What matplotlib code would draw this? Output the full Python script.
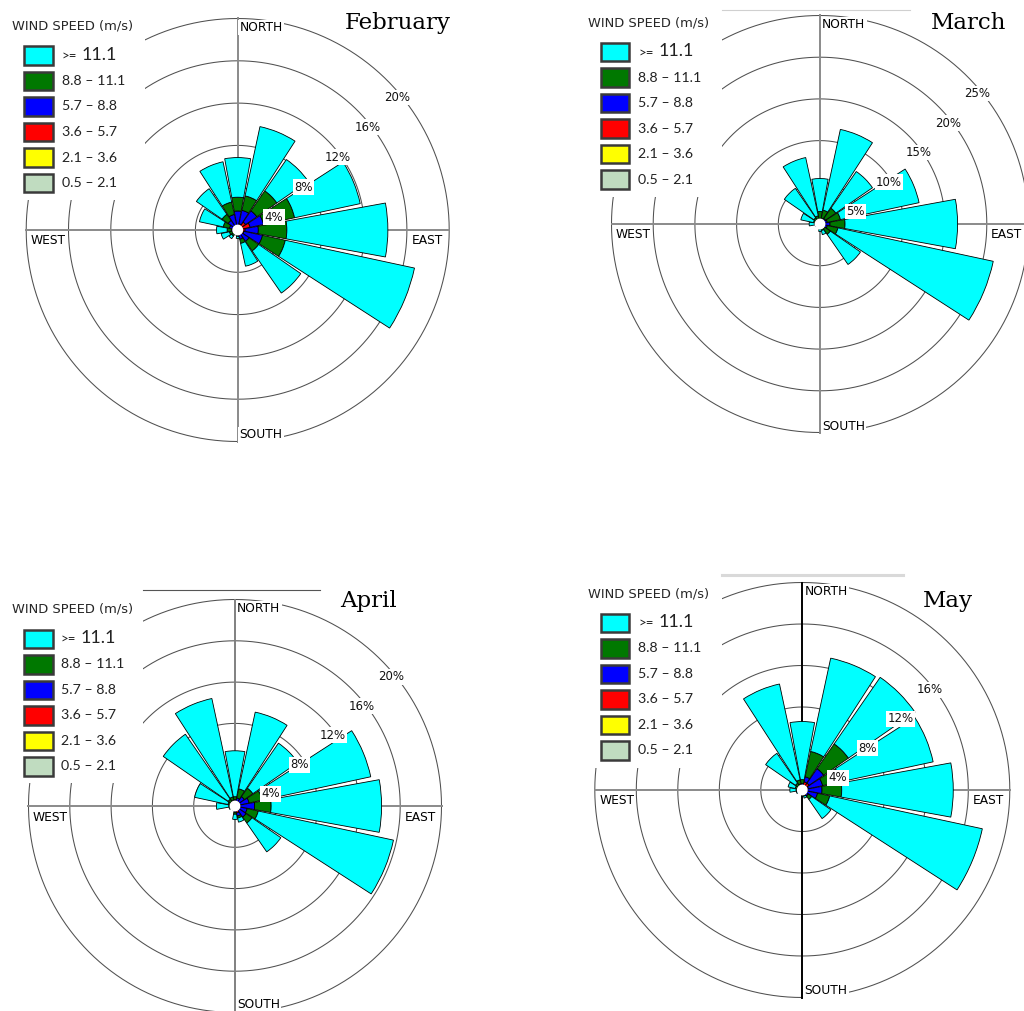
import numpy as np
import matplotlib.pyplot as plt
from matplotlib.patches import Rectangle

W, H = 1024, 1011
PT = 0.72  # points per pixel at dpi=100

directions = ['N', 'NNE', 'NE', 'ENE', 'E', 'ESE', 'SE', 'SSE',
              'S', 'SSW', 'SW', 'WSW', 'W', 'WNW', 'NW', 'NNW']
speed_labels = ['0.5 – 2.1', '2.1 – 3.6', '3.6 – 5.7', '5.7 – 8.8', '8.8 – 11.1', '>= 11.1']
speed_colors = ['#c0dcc0', '#ffff00', '#ff0000', '#0000ff', '#007800', '#00ffff']

# frequency (%) of each speed class per direction, N clockwise
feb_05_21 = [0.1, 0.1, 0.1, 0.1, 0.1, 0.1, 0.1, 0.1, 0.1, 0.1, 0.1, 0.1, 0.1, 0.1, 0.1, 0.1]
feb_21_36 = [0.1, 0.1, 0.1, 0.1, 0.1, 0.1, 0.1, 0.1, 0.1, 0.1, 0.1, 0.1, 0.1, 0.1, 0.1, 0.1]
feb_36_57 = [0.25, 0.4, 0.7, 1.0, 0.5, 0.4, 0.2, 0.2, 0.15, 0.1, 0.1, 0.1, 0.1, 0.15, 0.2, 0.25]
feb_57_88 = [1.35, 1.3, 1.3, 1.3, 1.25, 1.8, 0.9, 0.5, 0.15, 0.1, 0.2, 0.2, 0.3, 0.45, 0.7, 1.05]
feb_88_111 = [1.3, 1.4, 2.3, 3.0, 2.7, 2.2, 1.1, 0.4, 0.1, 0.05, 0.2, 0.3, 0.4, 0.6, 0.7, 1.2]
feb_111 = [3.75, 6.7, 3.6, 6.35, 9.55, 12.5, 4.85, 2.2, 0.2, 0.05, 0.3, 0.8, 1.0, 2.3, 2.95, 3.9]

mar_05_21 = [0.1, 0.1, 0.1, 0.1, 0.1, 0.1, 0.1, 0.1, 0.1, 0.1, 0.1, 0.1, 0.1, 0.1, 0.1, 0.1]
mar_21_36 = [0.1, 0.1, 0.1, 0.1, 0.1, 0.1, 0.1, 0.1, 0.1, 0.1, 0.1, 0.1, 0.1, 0.1, 0.1, 0.1]
mar_36_57 = [0.2, 0.2, 0.2, 0.2, 0.25, 0.2, 0.15, 0.1, 0.1, 0.05, 0.05, 0.05, 0.1, 0.1, 0.1, 0.15]
mar_57_88 = [0.2, 0.3, 0.4, 0.5, 0.75, 0.5, 0.35, 0.2, 0.1, 0.05, 0.05, 0.05, 0.1, 0.15, 0.2, 0.2]
mar_88_111 = [0.9, 1.0, 1.5, 1.6, 1.8, 1.3, 0.8, 0.3, 0.1, 0.05, 0.05, 0.1, 0.2, 0.35, 0.4, 0.45]
mar_111 = [3.95, 9.9, 5.35, 9.65, 13.5, 19.05, 4.4, 0.5, 0.4, 0.05, 0.05, 0.2, 0.7, 1.55, 4.3, 7.15]

apr_05_21 = [0.1, 0.1, 0.1, 0.1, 0.1, 0.1, 0.1, 0.1, 0.1, 0.1, 0.1, 0.1, 0.1, 0.1, 0.1, 0.1]
apr_21_36 = [0.1, 0.1, 0.1, 0.1, 0.1, 0.1, 0.1, 0.1, 0.1, 0.1, 0.1, 0.1, 0.1, 0.1, 0.1, 0.1]
apr_36_57 = [0.2, 0.2, 0.25, 0.3, 0.3, 0.25, 0.3, 0.5, 0.1, 0.05, 0.05, 0.05, 0.1, 0.1, 0.1, 0.15]
apr_57_88 = [0.2, 0.4, 0.65, 0.9, 1.4, 0.75, 0.8, 0.3, 0.3, 0.05, 0.05, 0.05, 0.1, 0.15, 0.2, 0.2]
apr_88_111 = [0.3, 0.9, 1.0, 1.3, 1.6, 1.1, 0.7, 0.2, 0.2, 0.05, 0.05, 0.1, 0.2, 0.25, 0.3, 0.35]
apr_111 = [4.45, 7.6, 5.3, 10.75, 10.7, 13.4, 3.4, 0.4, 0.5, 0.1, 0.05, 0.2, 1.2, 3.3, 7.65, 9.75]

may_05_21 = [0.1, 0.1, 0.1, 0.1, 0.1, 0.1, 0.1, 0.1, 0.1, 0.1, 0.1, 0.1, 0.1, 0.1, 0.1, 0.1]
may_21_36 = [0.1, 0.1, 0.1, 0.1, 0.1, 0.1, 0.1, 0.1, 0.1, 0.1, 0.1, 0.1, 0.1, 0.1, 0.1, 0.1]
may_36_57 = [0.2, 0.6, 0.6, 0.4, 0.3, 0.25, 0.2, 0.15, 0.1, 0.05, 0.05, 0.05, 0.1, 0.1, 0.1, 0.15]
may_57_88 = [0.2, 0.5, 1.7, 1.4, 1.4, 1.05, 0.3, 0.15, 0.1, 0.05, 0.05, 0.05, 0.1, 0.15, 0.2, 0.25]
may_88_111 = [0.4, 2.5, 2.9, 1.8, 1.9, 1.2, 0.4, 0.1, 0.05, 0.05, 0.05, 0.1, 0.2, 0.25, 0.3, 0.4]
may_111 = [5.6, 9.2, 7.8, 9.1, 10.75, 15.05, 2.25, 0.2, 0.05, 0.05, 0.05, 0.2, 0.6, 0.7, 3.5, 9.45]

feb_rings = [4, 8, 12, 16, 20]
mar_rings = [5, 10, 15, 20, 25]
apr_rings = [4, 8, 12, 16, 20]
may_rings = [4, 8, 12, 16, 20]

panels = [
    dict(title='February', cx=237.7, cy=230, step=42.3, rings=feb_rings, labels=feb_rings,
         data=[feb_05_21, feb_21_36, feb_36_57, feb_57_88, feb_88_111, feb_111],
         vcol='#8a8a8a', title_xy=(345, 28.5), south_dy=6.5,
         leg=dict(tx=11.7, ty=26, bx=24, by=55.5, lx=61.7, cover=(0, 0, 145, 200))),
    dict(title='March', cx=820, cy=224, step=41.7, rings=mar_rings, labels=mar_rings,
         data=[mar_05_21, mar_21_36, mar_36_57, mar_57_88, mar_88_111, mar_111],
         vcol='#8a8a8a', title_xy=(930.7, 29.3), south_dy=6.5,
         leg=dict(tx=588.3, ty=22.5, bx=600.7, by=52.2, lx=638.3, cover=(560, 0, 722, 197))),
    dict(title='April', cx=235, cy=806, step=41.3, rings=apr_rings, labels=apr_rings,
         data=[apr_05_21, apr_21_36, apr_36_57, apr_57_88, apr_88_111, apr_111],
         vcol='#808080', title_xy=(340, 606.7), south_dy=8.5,
         leg=dict(tx=11.7, ty=609.2, bx=24, by=638.8, lx=60.7, cover=(0, 580, 143, 783))),
    dict(title='May', cx=802.3, cy=790, step=41.5, rings=may_rings, labels=may_rings[:4],
         data=[may_05_21, may_21_36, may_36_57, may_57_88, may_88_111, may_111],
         vcol='#000000', title_xy=(923, 607.3), south_dy=6.5,
         leg=dict(tx=588.3, ty=593.7, bx=600.7, by=622.8, lx=638.3, cover=(580, 560, 722, 768))),
]

plt.rcParams['font.family'] = 'DejaVu Sans'
fig = plt.figure(figsize=(W / 100, H / 100), dpi=100)

theta = np.deg2rad(np.arange(len(directions)) * 22.5)
bar_width = np.deg2rad(22.5 * 0.92)
circ = np.linspace(0, 2 * np.pi, 361)
box_style = dict(boxstyle='square,pad=0.12', fc='white', ec='none')

for p in panels:
    rmax = p['rings'][-1]
    lim = rmax * 1.06
    half = p['step'] * len(p['rings']) * 1.06
    ax = fig.add_axes([(p['cx'] - half) / W, 1 - (p['cy'] + half) / H,
                       2 * half / W, 2 * half / H], projection='polar')
    ax.set_theta_zero_location('N')
    ax.set_theta_direction(-1)
    ax.set_ylim(0, lim)
    ax.grid(False)
    ax.set_xticks([])
    ax.set_yticks([])
    ax.spines['polar'].set_visible(False)
    ax.patch.set_visible(False)

    for r in p['rings']:
        ax.plot(circ, np.full_like(circ, r), color='#505050', lw=0.75, zorder=1)
    ax.plot([0, 0], [0, rmax], color=p['vcol'], lw=1.4, zorder=1)
    ax.plot([np.pi, np.pi], [0, rmax], color=p['vcol'], lw=1.4, zorder=1)
    ax.plot([np.pi / 2, np.pi / 2], [0, rmax], color='#8a8a8a', lw=1.4, zorder=1)
    ax.plot([3 * np.pi / 2, 3 * np.pi / 2], [0, rmax], color='#8a8a8a', lw=1.4, zorder=1)

    # stacked wind-speed classes
    bottom = np.zeros(len(directions))
    for vals, col in zip(p['data'], speed_colors):
        vals = np.asarray(vals, dtype=float)
        ax.bar(theta, vals, width=bar_width, bottom=bottom, color=col,
               edgecolor='black', lw=0.6, zorder=2)
        bottom += vals

    hole = 4.7 / p['step'] * p['rings'][0]
    ax.fill(circ, np.full_like(circ, hole), color='white', zorder=3)

    for r in p['labels']:
        ax.annotate(f'{r}%', xy=(np.pi / 4, r), xytext=(-3 * PT, -17 * PT),
                    textcoords='offset points', ha='left', va='center',
                    fontsize=8.5, color='#111111', bbox=box_style, zorder=4)

    ax.annotate('NORTH', xy=(0, rmax), xytext=(2 * PT, -9 * PT), textcoords='offset points',
                ha='left', va='center', fontsize=8.8, bbox=box_style, zorder=4)
    ax.annotate('SOUTH', xy=(np.pi, rmax), xytext=(2 * PT, p['south_dy'] * PT),
                textcoords='offset points', ha='left', va='center', fontsize=8.8,
                bbox=box_style, zorder=4)
    ax.annotate('WEST', xy=(3 * np.pi / 2, rmax), xytext=(4.5 * PT, -11 * PT),
                textcoords='offset points', ha='left', va='center', fontsize=8.8, zorder=4)
    ax.annotate('EAST', xy=(np.pi / 2, rmax), xytext=(-6 * PT, -11 * PT),
                textcoords='offset points', ha='right', va='center', fontsize=8.8, zorder=4)

# overlay in pixel coordinates for legends and titles
ov = fig.add_axes([0, 0, 1, 1], zorder=5)
ov.set_xlim(0, W)
ov.set_ylim(H, 0)
ov.axis('off')
ov.patch.set_visible(False)

for p in panels:
    lg = p['leg']
    x0, y0, x1, y1 = lg['cover']
    ov.add_patch(Rectangle((x0, y0), x1 - x0, y1 - y0, fc='white', ec='none', zorder=1))
    ov.text(lg['tx'], lg['ty'], 'WIND SPEED (m/s)', fontsize=9.4, color='#262626',
            ha='left', va='center', zorder=3)
    for i, (lab, col) in enumerate(zip(speed_labels[::-1], speed_colors[::-1])):
        yc = lg['by'] + i * 25.5
        ov.add_patch(Rectangle((lg['bx'], yc - 9.25), 28.7, 18.5, fc=col, ec='#3a3a3a',
                               lw=1.8, zorder=2))
        if lab.startswith('>='):
            ov.text(lg['lx'], yc, '>=', fontsize=9.5, fontfamily='Lato', color='#222222',
                    ha='left', va='center', zorder=3)
            ov.text(lg['lx'] + 20, yc - 1, lab[3:], fontsize=13, fontfamily='Lato',
                    color='#222222', ha='left', va='center', zorder=3)
        else:
            ov.text(lg['lx'], yc, lab, fontsize=10.2, fontfamily='Lato', color='#222222',
                    ha='left', va='center', zorder=3)
    ov.text(p['title_xy'][0], p['title_xy'][1], p['title'], fontfamily='DejaVu Serif',
            fontsize=16.5, ha='left', va='baseline', color='black', zorder=3)

# frame edges left over at the top of three panels
ov.plot([722, 910], [10, 10], color='#d0d0d0', lw=0.8)
ov.plot([143, 320], [590, 590], color='#555555', lw=0.8)
ov.plot([722, 903], [575, 575], color='#d9d9d9', lw=2.2)

fig.savefig('out.png', dpi=100)
